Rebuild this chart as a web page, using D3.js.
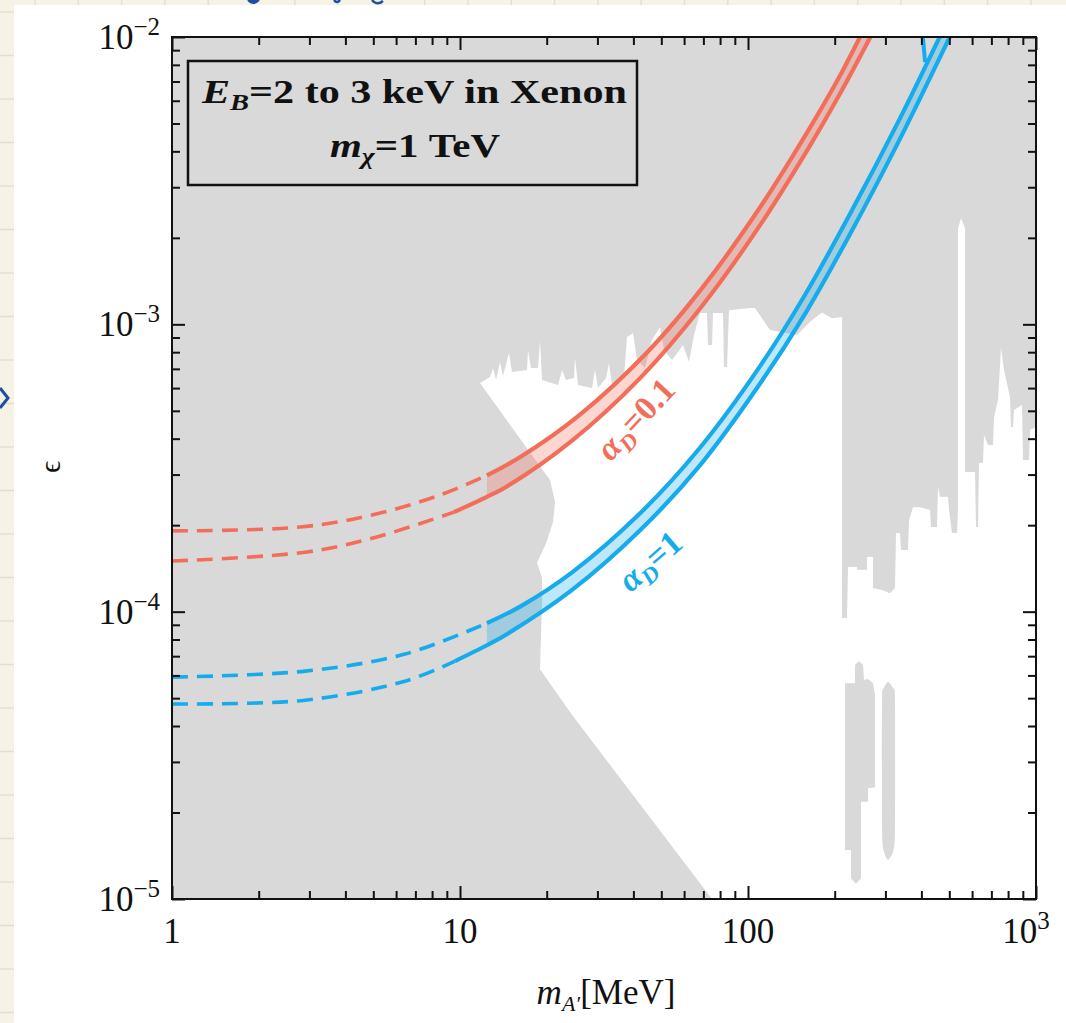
<!DOCTYPE html>
<html>
<head>
<meta charset="utf-8">
<script src="https://cdn.jsdelivr.net/npm/d3@7"></script>
<style>
  body { margin: 0; background: #f6f3e6; }
  svg { display: block; font-family: "Liberation Serif", "Times New Roman", serif; }
</style>
</head>
<body>
<svg id="chart" width="1066" height="1023"></svg>
<script>
// ---- axes ----
const massDomain = [1, 1000]
const epsDomain = [1e-5, 1e-2]
const xTickValues = [1, 10, 100, 1000]
const xTickBase = ['1', '10', '100', '10']
const xTickSup = ['', '', '', '3']
const yTickValues = [1e-5, 1e-4, 1e-3, 1e-2]
const yTickSup = ['\u22125', '\u22124', '\u22123', '\u22122']

// ---- alpha_D = 0.1 band (MeV, epsilon) ----
const redUpperMass = [1, 2.78, 4.95, 8.46, 12.4, 16.4, 26.1, 44.6, 69.8, 110, 164, 209, 245, 270]
const redUpperEps = [1.91e-4, 1.97e-4, 2.17e-4, 2.54e-4, 2.98e-4, 3.48e-4, 4.85e-4, 7.98e-4, 1.35e-3, 2.55e-3, 4.83e-3, 7.36e-3, 1.0e-2, 1.2e-2]
const redLowerMass = [1, 2.90, 4.95, 9.53, 12.4, 14.3, 24.5, 42.2, 69.8, 110, 164, 209, 266, 295]
const redLowerEps = [1.50e-4, 1.61e-4, 1.80e-4, 2.22e-4, 2.51e-4, 2.70e-4, 3.94e-4, 6.50e-4, 1.17e-3, 2.21e-3, 4.18e-3, 6.37e-3, 1.0e-2, 1.22e-2]

// ---- alpha_D = 1 band ----
const blueUpperMass = [1, 2.90, 6.44, 12.4, 16.4, 24.5, 42.2, 68.1, 110, 158, 226, 337, 463, 500]
const blueUpperEps = [5.92e-5, 6.21e-5, 7.12e-5, 9.12e-5, 1.05e-4, 1.37e-4, 2.20e-4, 3.72e-4, 7.14e-4, 1.27e-3, 2.42e-3, 5.21e-3, 1.0e-2, 1.17e-2]
const blueLowerMass = [1, 2.90, 6.44, 9.61, 12.4, 14.3, 24.5, 42.2, 68.1, 110, 158, 226, 337, 502, 540]
const blueLowerEps = [4.77e-5, 4.92e-5, 5.73e-5, 6.73e-5, 7.64e-5, 8.26e-5, 1.19e-4, 1.92e-4, 3.23e-4, 6.21e-4, 1.09e-3, 2.06e-3, 4.42e-3, 1.0e-2, 1.16e-2]
const blueStubMass = [405, 412]
const blueStubEps = [9.92e-3, 8.18e-3]

// where each line turns from dashed to solid, and where the band fill starts
const solidFrom = [12.4, 9.53, 12.4, 9.61]
const bandFrom = 12.4

// ---- allowed (white) region, outline [MeV, epsilon] ----
const allowedRegion = [
  [75.0, 1.0e-5], [24.5, 4.37e-5], [18.96, 6.31e-5], [19.27, 1.10e-4], [19.27, 1.31e-4],
  [18.51, 1.48e-4], [19.90, 1.73e-4], [21.04, 2.05e-4], [21.38, 2.41e-4], [20.54, 2.87e-4],
  [18.81, 3.24e-4], [11.73, 6.25e-4], [12.71, 6.56e-4], [13.02, 7.05e-4], [13.34, 6.40e-4],
  [13.77, 7.39e-4], [14.10, 6.61e-4], [14.79, 7.94e-4], [15.15, 6.82e-4], [17.09, 6.93e-4],
  [17.22, 8.14e-4], [17.64, 7.05e-4], [18.66, 7.05e-4], [18.96, 8.75e-4], [19.27, 6.40e-4],
  [21.90, 6.15e-4], [22.61, 6.93e-4], [23.34, 6.40e-4], [24.88, 6.50e-4], [25.08, 7.63e-4],
  [25.69, 6.15e-4], [28.73, 6.00e-4], [29.43, 6.93e-4], [30.14, 6.00e-4], [32.13, 6.50e-4],
  [32.91, 7.33e-4], [33.71, 6.15e-4], [37.10, 6.50e-4], [38.01, 9.03e-4], [39.88, 9.33e-4],
  [41.18, 7.51e-4], [43.90, 7.05e-4], [46.42, 8.82e-4], [49.48, 9.79e-4], [51.10, 8.14e-4],
  [54.47, 7.51e-4], [59.47, 8.47e-4], [62.39, 7.39e-4], [64.94, 9.18e-4], [68.13, 1.095e-3],
  [72.05, 1.095e-3], [72.63, 8.47e-4], [75.0, 8.47e-4], [75.59, 1.095e-3], [81.90, 1.095e-3],
  [82.54, 7.10e-4], [84.55, 7.10e-4], [85.90, 1.12e-3], [101.6, 1.14e-3], [105.7, 1.14e-3],
  [119.2, 9.55e-4], [147.9, 9.18e-4], [164.2, 1.02e-3], [180.7, 1.10e-3], [195.7, 1.05e-3],
  [212.1, 1.06e-3], [212.1, 9.50e-5], [220.7, 9.50e-5], [222.5, 1.43e-4], [239.0, 1.43e-4],
  [239.0, 1.40e-4], [259.0, 1.40e-4], [259.0, 1.55e-4], [271.6, 1.55e-4], [271.6, 1.21e-4],
  [292.0, 1.19e-4], [311.2, 1.16e-4], [323.9, 1.21e-4], [326.5, 1.88e-4], [337.1, 1.88e-4],
  [339.8, 1.64e-4], [359.4, 1.64e-4], [362.3, 2.08e-4], [374.1, 2.31e-4], [395.6, 2.31e-4],
  [428.5, 2.26e-4], [432.0, 1.97e-4], [453.2, 1.97e-4], [456.8, 2.72e-4], [464.2, 2.51e-4],
  [494.8, 2.51e-4], [498.8, 2.26e-4], [511.0, 1.88e-4], [531.9, 1.88e-4], [536.1, 2.31e-4],
  [536.1, 2.16e-3], [549.1, 2.34e-3], [567.0, 2.16e-3], [567.0, 3.06e-4], [614.1, 3.06e-4],
  [619.0, 1.97e-4], [629.0, 1.97e-4], [634.0, 3.29e-4], [654.6, 3.29e-4], [659.8, 4.12e-4],
  [681.3, 3.80e-4], [709.2, 3.80e-4], [714.9, 4.76e-4], [738.2, 5.45e-4], [756.1, 8.34e-4],
  [774.3, 6.93e-4], [812.2, 5.58e-4], [818.7, 4.39e-4], [831.9, 4.39e-4], [838.6, 5.03e-4],
  [894.3, 5.24e-4], [901.5, 3.37e-4], [945.6, 3.37e-4], [953.2, 4.29e-4], [1000, 4.39e-4],
  [1000, 1.0e-5]
]

// excluded islands inside the allowed region
const islandA = [
  [217.2, 5.64e-5], [235.2, 5.64e-5], [235.2, 6.52e-5], [242.9, 6.73e-5], [250.8, 6.52e-5],
  [252.8, 5.78e-5], [261.0, 5.83e-5], [271.6, 5.64e-5], [276.1, 5.13e-5], [276.1, 2.45e-5],
  [261.0, 2.43e-5], [261.0, 2.18e-5], [246.8, 2.18e-5], [246.8, 1.18e-5], [237.1, 1.13e-5],
  [227.8, 1.18e-5], [227.8, 1.48e-5], [217.2, 1.48e-5]
]
const islandB = [
  [306.4, 5.69e-5], [318.8, 5.42e-5], [323.9, 4.92e-5], [323.9, 1.74e-5], [318.8, 1.46e-5],
  [306.4, 1.37e-5], [296.7, 1.46e-5], [292.0, 1.74e-5], [292.0, 4.92e-5], [296.7, 5.42e-5]
]

const red = '#f36e5a'
const blue = '#16acec'
const grey = '#d9d9d9'

const svg = d3.select('#chart')

// notebook paper behind the figure
const page = svg.append('g')
d3.range(0, 25).forEach((k) => {
  page.append('line').attr('x1', 35 + 43.3 * k).attr('x2', 35 + 43.3 * k)
    .attr('y1', 0).attr('y2', 1023).attr('stroke', '#e4dfcc').attr('stroke-width', 1.5)
})
d3.range(0, 24).forEach((k) => {
  page.append('line').attr('x1', 0).attr('x2', 1066)
    .attr('y1', 12 + 43.5 * k).attr('y2', 12 + 43.5 * k).attr('stroke', '#e4dfcc').attr('stroke-width', 1.5)
})
page.append('rect').attr('x', 14).attr('y', 5).attr('width', 1052).attr('height', 1018).attr('fill', '#fff')
// pen marks from the notebook
page.append('path').attr('d', 'M0,388 L8,398 L0,408').attr('fill', 'none').attr('stroke', '#1f4fa0').attr('stroke-width', 3)
page.append('path').attr('d', 'M248,0 Q253,6 259,0').attr('fill', '#1f4fa0').attr('stroke', '#1f4fa0').attr('stroke-width', 2)
page.append('path').attr('d', 'M334,0 Q337,4 340,0').attr('fill', 'none').attr('stroke', '#1f4fa0').attr('stroke-width', 2.5)
page.append('path').attr('d', 'M372,0 Q377,6 383,1').attr('fill', 'none').attr('stroke', '#1f4fa0').attr('stroke-width', 2.5)

var x = d3.scaleLog().domain(massDomain).range([172, 1036])
var y = d3.scaleLog().domain(epsDomain).range([899, 37])

svg.append('clipPath').attr('id', 'plot')
  .append('rect').attr('x', 172).attr('y', 37).attr('width', 864).attr('height', 862)

const plot = svg.append('g').attr('clip-path', 'url(#plot)')
plot.append('rect').attr('x', 172).attr('y', 37).attr('width', 864).attr('height', 862).attr('fill', grey)

const poly = d3.line().x((d) => x(d[0])).y((d) => y(d[1])).curve(d3.curveLinearClosed)
const smoothPoly = d3.line().x((d) => x(d[0])).y((d) => y(d[1])).curve(d3.curveCardinalClosed.tension(0.3))
plot.append('path').attr('d', poly(allowedRegion)).attr('fill', '#fff')
plot.append('path').attr('d', poly(islandA)).attr('fill', grey)
plot.append('path').attr('d', smoothPoly(islandB)).attr('fill', grey)

// bands
const curve = d3.line().x((d) => x(d[0])).y((d) => y(d[1])).curve(d3.curveCatmullRom.alpha(0.5))
const zip = (ms, es) => ms.map((m, i) => [m, es[i]])

const lines = [
  { pts: zip(redUpperMass, redUpperEps), color: red },
  { pts: zip(redLowerMass, redLowerEps), color: red },
  { pts: zip(blueUpperMass, blueUpperEps), color: blue },
  { pts: zip(blueLowerMass, blueLowerEps), color: blue }
]
const bands = [
  { upper: lines[0].pts, lower: lines[1].pts, color: red, opacity: 0.28 },
  { upper: lines[2].pts, lower: lines[3].pts, color: blue, opacity: 0.28 }
]

bands.forEach((b) => {
  var up = b.upper.filter((d) => d[0] >= bandFrom)
  var lo = b.lower.filter((d) => d[0] >= bandFrom).reverse()
  var d = curve(up) + 'L' + curve(lo).slice(1) + 'Z'
  plot.append('path').attr('d', d).attr('fill', b.color).attr('fill-opacity', b.opacity)
})

lines.forEach((l, i) => {
  plot.append('path')
    .attr('d', curve(l.pts.filter((d) => d[0] <= solidFrom[i])))
    .attr('fill', 'none').attr('stroke', l.color).attr('stroke-width', 3.6)
    .attr('stroke-dasharray', '16,9')
  plot.append('path')
    .attr('d', curve(l.pts.filter((d) => d[0] >= solidFrom[i])))
    .attr('fill', 'none').attr('stroke', l.color).attr('stroke-width', 4.2)
})
plot.append('path').attr('d', d3.line().x((d) => x(d[0])).y((d) => y(d[1]))(zip(blueStubMass, blueStubEps)))
  .attr('fill', 'none').attr('stroke', blue).attr('stroke-width', 4)

// frame + inward ticks
const majorX = x.ticks().filter((v) => Math.abs(Math.log10(v) % 1) < 1e-9)
const minorX = x.ticks().filter((v) => Math.abs(Math.log10(v) % 1) > 1e-9)
const majorY = y.ticks().filter((v) => Math.abs(Math.log10(v) % 1) < 1e-9)
const minorY = y.ticks().filter((v) => Math.abs(Math.log10(v) % 1) > 1e-9)

function tickAxis (axis, vals, size, tx, ty) {
  var g = svg.append('g').attr('transform', 'translate(' + tx + ',' + ty + ')')
    .call(axis.tickValues(vals).tickSize(-size).tickFormat(''))
  g.select('.domain').remove()
  g.selectAll('.tick line').attr('stroke', '#111').attr('stroke-width', 2)
}
tickAxis(d3.axisBottom(x), majorX, 13, 0, 899)
tickAxis(d3.axisBottom(x), minorX, 8, 0, 899)
tickAxis(d3.axisTop(x), majorX, 13, 0, 37)
tickAxis(d3.axisTop(x), minorX, 8, 0, 37)
tickAxis(d3.axisLeft(y), majorY, 13, 172, 0)
tickAxis(d3.axisLeft(y), minorY, 8, 172, 0)
tickAxis(d3.axisRight(y), majorY, 13, 1036, 0)
tickAxis(d3.axisRight(y), minorY, 8, 1036, 0)

svg.append('rect').attr('x', 172).attr('y', 37).attr('width', 864).attr('height', 862)
  .attr('fill', 'none').attr('stroke', '#111').attr('stroke-width', 2)

// tick labels
yTickValues.forEach((v, i) => {
  var t = svg.append('text').attr('x', 160).attr('y', y(v) + 12)
    .attr('text-anchor', 'end').attr('font-size', 35).attr('fill', '#111')
  t.append('tspan').text('10')
  t.append('tspan').attr('font-size', 25).attr('dy', -14).text(yTickSup[i])
})
xTickValues.forEach((v, i) => {
  var t = svg.append('text').attr('x', x(v) - (xTickSup[i] ? 10 : 0)).attr('y', 943)
    .attr('text-anchor', 'middle').attr('font-size', 35).attr('fill', '#111')
  t.append('tspan').text(xTickBase[i])
  if (xTickSup[i]) t.append('tspan').attr('font-size', 25).attr('dy', -14).text(xTickSup[i])
})

// axis titles
var xt = svg.append('text').attr('x', 606).attr('y', 1004).attr('text-anchor', 'middle')
  .attr('font-size', 35).attr('fill', '#111')
xt.append('tspan').attr('font-style', 'italic').text('m')
xt.append('tspan').attr('font-style', 'italic').attr('font-size', 22).attr('dy', 7).text('A\u2032')
xt.append('tspan').attr('dy', -7).text('[MeV]')

svg.append('text').attr('transform', 'translate(60,467) rotate(-90)')
  .attr('text-anchor', 'middle').attr('font-size', 30).attr('fill', '#111').text('\u03f5')

// legend box
svg.append('rect').attr('x', 188).attr('y', 61).attr('width', 449).attr('height', 124)
  .attr('fill', 'none').attr('stroke', '#111').attr('stroke-width', 2.5)
var l1 = svg.append('text').attr('x', 202).attr('y', 103).attr('font-size', 34)
  .attr('font-weight', 'bold').attr('fill', '#111').attr('textLength', 425).attr('lengthAdjust', 'spacingAndGlyphs')
l1.append('tspan').attr('font-style', 'italic').text('E')
l1.append('tspan').attr('font-style', 'italic').attr('font-size', 23).attr('dy', 7).text('B')
l1.append('tspan').attr('dy', -7).text('=2 to 3 keV in Xenon')
var l2 = svg.append('text').attr('x', 330).attr('y', 157).attr('font-size', 34)
  .attr('font-weight', 'bold').attr('fill', '#111').attr('textLength', 170).attr('lengthAdjust', 'spacingAndGlyphs')
l2.append('tspan').attr('font-style', 'italic').text('m')
l2.append('tspan').attr('font-style', 'italic').attr('font-size', 23).attr('dy', 7).text('\u03c7')
l2.append('tspan').attr('dy', -7).text('=1 TeV')

// curve labels
const curveLabels = [
  { m: 43.5, eps: 4.4e-4, angle: -47, value: '=0.1', color: red },
  { m: 48.5, eps: 1.40e-4, angle: -41, value: '=1', color: blue }
]
curveLabels.forEach((c) => {
  var t = svg.append('text')
    .attr('transform', 'translate(' + x(c.m) + ',' + y(c.eps) + ') rotate(' + c.angle + ')')
    .attr('text-anchor', 'middle').attr('font-size', 34).attr('font-weight', 'bold').attr('fill', c.color)
  t.append('tspan').attr('font-style', 'italic').text('\u03b1')
  t.append('tspan').attr('font-style', 'italic').attr('font-size', 23).attr('dy', 7).text('D')
  t.append('tspan').attr('dy', -7).text(c.value)
})
</script>
</body>
</html>
